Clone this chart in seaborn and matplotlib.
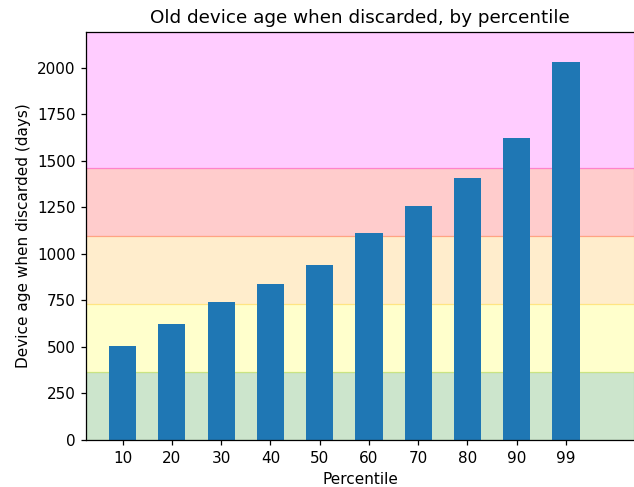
import pandas as pd
import matplotlib
matplotlib.use('Agg')
import matplotlib.pyplot as plt
import seaborn as sns

# percentile -> device age (days) when discarded
percentiles = ['10', '20', '30', '40', '50', '60', '70', '80', '90', '99']
age_days = [504, 622, 740, 836, 938, 1110, 1255, 1405, 1619, 2027]

# yearly bands (days) and their colours
band_edges = [0, 365, 730, 1095, 1460, 2190]
band_colors = ['green', 'yellow', 'orange', 'red', 'magenta']

df = pd.DataFrame({'Percentile': percentiles, 'Age': age_days})

sns.set_style('ticks')
plt.rcParams['font.family'] = ['DejaVu Sans']
plt.rcParams['text.color'] = 'black'
plt.rcParams['axes.labelcolor'] = 'black'

fig = plt.figure(figsize=(6.34, 4.87), dpi=100)
ax = fig.add_axes([0.1356, 0.0965, 0.8644, 0.8375])

for lo, hi, c in zip(band_edges[:-1], band_edges[1:], band_colors):
    ax.axhspan(lo, hi, color=c, alpha=0.2, lw=0.9, zorder=0)

sns.barplot(data=df, x='Percentile', y='Age', color='#1f77b4', saturation=1,
            width=0.55, linewidth=0, ax=ax, zorder=2)

ax.set_xlim(-0.745, 10.38)
ax.set_ylim(0, band_edges[-1])
ax.set_yticks(range(0, 2001, 250))
ax.spines['right'].set_visible(False)
for s in ['left', 'bottom', 'top']:
    ax.spines[s].set_color('black')
    ax.spines[s].set_linewidth(0.9)
ax.tick_params(colors='black', labelsize=11, length=3.85, width=0.9, pad=3.8)

ax.set_title('Old device age when discarded, by percentile', fontsize=13.2, pad=6.6)
ax.set_xlabel('Percentile', fontsize=11, labelpad=4.4)
ax.set_ylabel('Device age when discarded (days)', fontsize=11, labelpad=4.4)

fig.savefig('out.png', dpi=100)
